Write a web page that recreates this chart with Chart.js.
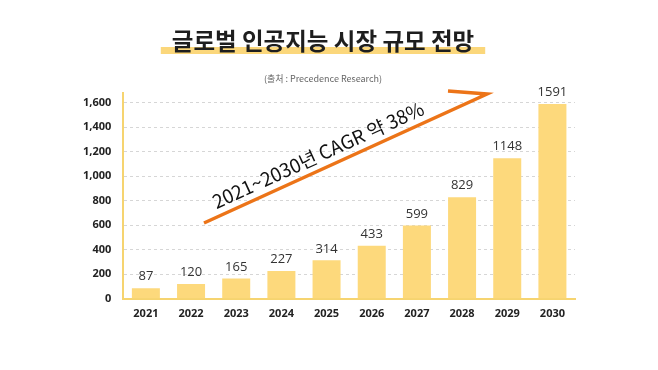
<!DOCTYPE html>
<html>
<head>
<meta charset="utf-8">
<script src="https://cdn.jsdelivr.net/npm/chart.js@4/dist/chart.umd.min.js"></script>
<style>
  html, body { margin: 0; padding: 0; background: #ffffff; }
  #wrap { width: 658px; height: 370px; position: relative; }
</style>
</head>
<body>
<div id="wrap"><canvas id="c" width="658" height="370"></canvas></div>
<script>
const categories = ['2021', '2022', '2023', '2024', '2025', '2026', '2027', '2028', '2029', '2030'];
const marketSize = [87, 120, 165, 227, 314, 433, 599, 829, 1148, 1591];
const yTicks = [0, 200, 400, 600, 800, 1000, 1200, 1400, 1600];
const titleText = '글로벌 인공지능 시장 규모 전망';
const subtitleText = '(출처 : Precedence Research)';
const arrowText = '2021~2030년 CAGR 약 38%';

const KFONT = "'Noto Sans CJK KR', 'Noto Sans', sans-serif";
const NFONT = "'Open Sans', 'Noto Sans', sans-serif";
const TITLE_SIZE = 23.5;

const titleHighlight = {
  id: 'titleHighlight',
  beforeDraw(chart) {
    const tb = chart.titleBlock;
    if (!tb) return;
    const ctx = chart.ctx;
    ctx.save();
    ctx.font = "bold " + TITLE_SIZE + "px " + KFONT;
    const w = ctx.measureText(titleText).width;
    const cx = tb.left + tb.width / 2;
    ctx.fillStyle = '#fbd77b';
    ctx.fillRect(cx - w / 2 - 11, 47, w + 22, 7);
    ctx.restore();
  }
};

const valueLabels = {
  id: 'valueLabels',
  afterDatasetsDraw(chart) {
    const ctx = chart.ctx;
    const meta = chart.getDatasetMeta(0);
    ctx.save();
    ctx.font = "13px " + NFONT;
    ctx.fillStyle = '#333333';
    ctx.textAlign = 'center';
    ctx.textBaseline = 'bottom';
    meta.data.forEach((bar, i) => {
      ctx.fillText(String(marketSize[i]), bar.x, bar.y - 5);
    });
    ctx.restore();
  }
};

const growthArrow = {
  id: 'growthArrow',
  afterDraw(chart) {
    const ctx = chart.ctx;
    ctx.save();
    ctx.strokeStyle = '#ec7418';
    ctx.lineWidth = 3.5;
    ctx.lineCap = 'butt';
    ctx.lineJoin = 'miter';
    ctx.miterLimit = 20;
    ctx.beginPath();
    ctx.moveTo(204, 223);
    ctx.lineTo(487, 94);
    ctx.lineTo(448, 91);
    ctx.stroke();
    const ang = Math.atan2(94 - 223, 487 - 204);
    ctx.translate(318, 155);
    ctx.rotate(ang);
    ctx.font = "19px " + KFONT;
    ctx.fillStyle = '#111111';
    ctx.textAlign = 'center';
    ctx.textBaseline = 'middle';
    ctx.fillText(arrowText, 0, 0);
    ctx.restore();
  }
};

new Chart(document.getElementById('c'), {
  type: 'bar',
  data: {
    labels: categories,
    datasets: [{
      data: marketSize,
      backgroundColor: '#fdd97c',
      borderWidth: 0,
      categoryPercentage: 1,
      barPercentage: 0.62
    }]
  },
  options: {
    responsive: false,
    animation: false,
    devicePixelRatio: 1,
    layout: { padding: { left: 71, right: 83, top: 0, bottom: 42 } },
    plugins: {
      legend: { display: false },
      tooltip: { enabled: false },
      title: {
        display: true,
        text: titleText,
        color: '#1e1e1e',
        font: { family: KFONT, size: TITLE_SIZE, weight: 'bold' },
        padding: { top: 27, bottom: 18 }
      },
      subtitle: {
        display: true,
        text: subtitleText,
        color: '#666666',
        font: { family: KFONT, size: 9 },
        padding: { top: 0, bottom: 9 }
      }
    },
    scales: {
      x: {
        grid: { display: false, drawTicks: false },
        border: { display: true, color: '#f6d470', width: 2 },
        ticks: { color: '#222', font: { family: NFONT, size: 11, weight: 'bold' }, padding: 8 }
      },
      y: {
        min: 0,
        max: 1680,
        afterBuildTicks(scale) { scale.ticks = yTicks.map(v => ({ value: v })); },
        grid: {
          drawTicks: false,
          color: (c) => c.tick && c.tick.value === 0 ? 'rgba(0,0,0,0)' : '#d6d6d6',
          lineWidth: 1
        },
        border: { display: true, color: '#f6d470', width: 2, dash: [3, 3] },
        ticks: {
          color: '#222',
          font: { family: NFONT, size: 11, weight: 'bold' },
          padding: 12,
          callback: (v) => v.toLocaleString('en-US')
        }
      }
    }
  },
  plugins: [titleHighlight, valueLabels, growthArrow]
});
</script>
</body>
</html>
